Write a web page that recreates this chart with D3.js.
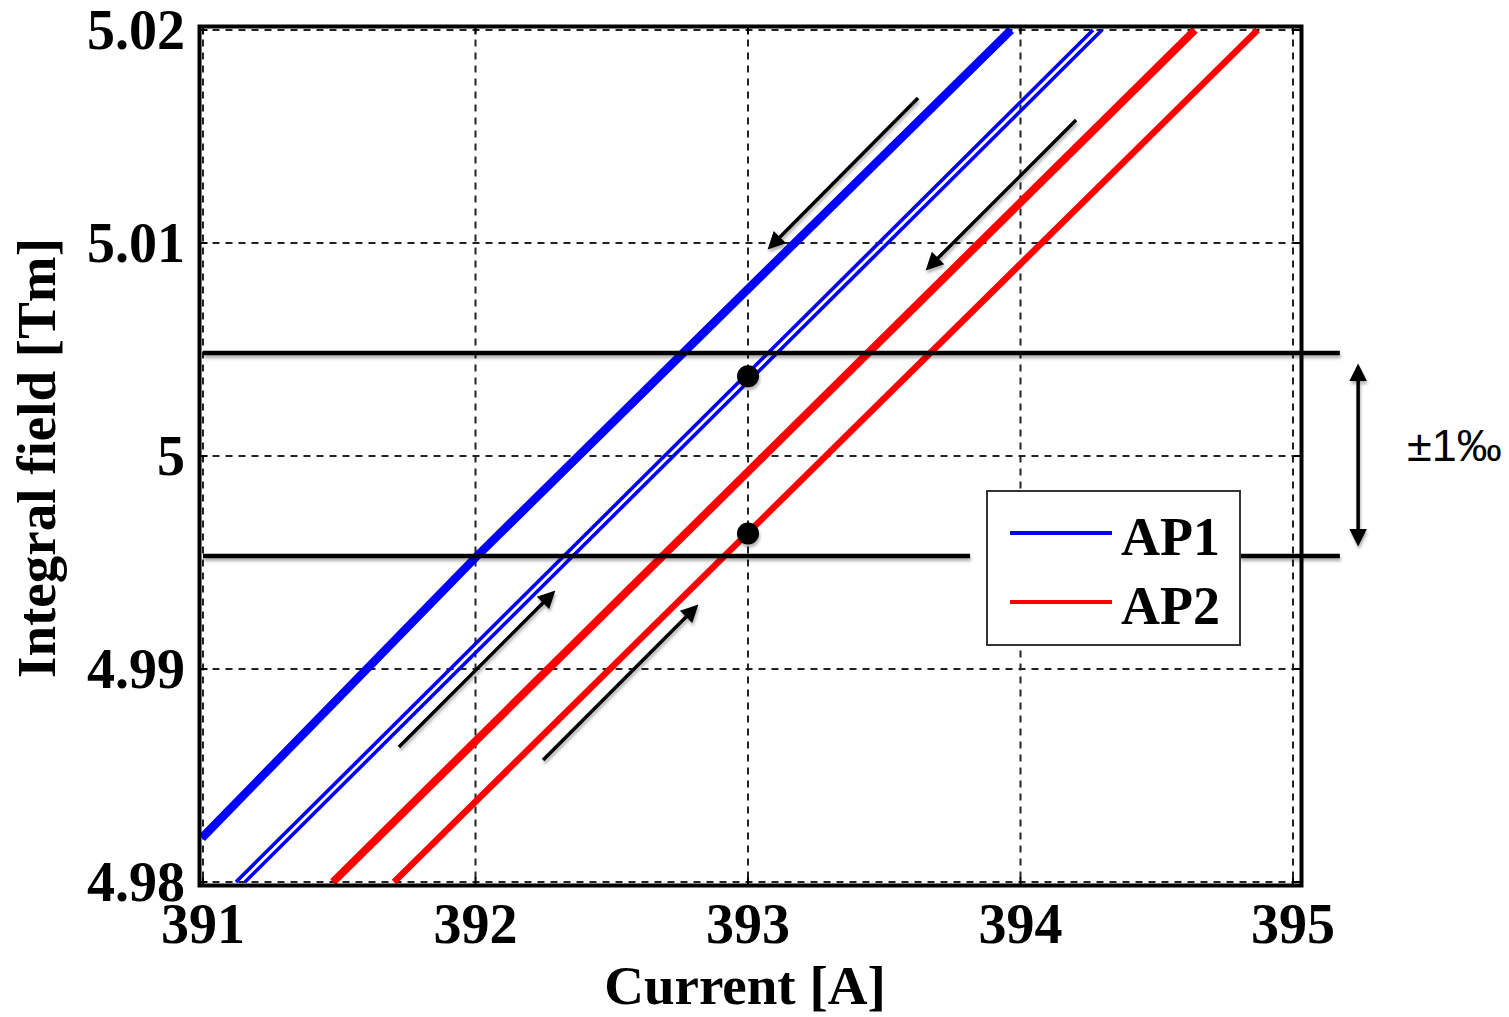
<!DOCTYPE html>
<html>
<head>
<meta charset="utf-8">
<script src="https://cdn.jsdelivr.net/npm/d3@7"></script>
<style>
  html, body { margin: 0; padding: 0; background: #fff; }
  svg { display: block; }
</style>
</head>
<body>
<svg id="chart" width="1509" height="1017"></svg>
<script>
// ---------- data ----------
const xTicks = [391, 392, 393, 394, 395];
const yTicks = [4.98, 4.99, 5.00, 5.01, 5.02];
const yTickLabels = ["4.98", "4.99", "5", "5.01", "5.02"];
const xLabel = "Current [A]";
const yLabel = "Integral field [Tm]";

// AP1 (blue): descending branch (thick) and ascending branch (double strand)
const ap1Down = [[390.996, 4.98207], [392.006, 4.99531], [393.965, 5.02]];
const ap1UpA  = [[391.121, 4.98], [394.266, 5.02]];
const ap1UpB  = [[391.154, 4.98], [394.299, 5.02]];
// AP2 (red): descending branch and ascending branch
const ap2Down = [[391.477, 4.98], [394.640, 5.02]];
const ap2Up   = [[391.701, 4.98], [394.870, 5.02]];

// tolerance band (±1 permille)
const bandUpper = [[391.0, 5.00484], [395.172, 5.00484]];
const bandLowerLeft  = [[391.0, 4.99531], [393.815, 4.99531]];
const bandLowerRight = [[394.806, 4.99531], [395.172, 4.99531]];
const setPoints = [[393.0, 5.00374], [393.0, 4.99636]];

// direction arrows [x0, y0, x1(tip), y1(tip)]
const arrows = [
  [393.624, 5.01681, 393.081, 5.00981],
  [394.204, 5.01577, 393.661, 5.00883],
  [391.719, 4.98634, 392.284, 4.99357],
  [392.248, 4.98573, 392.809, 4.99291]
];
const bandArrow = [395.239, 5.00418, 395.239, 4.99592];
const bandText = "±1‰";

const legendItems = [
  { name: "AP1", color: "#0000ff" },
  { name: "AP2", color: "#ff0000" }
];

// ---------- layout ----------
const svg = d3.select("#chart");
const x = d3.scaleLinear().domain([391, 395]).range([203, 1293]);
const y = d3.scaleLinear().domain([4.98, 5.02]).range([882, 30]);
const frame = { x0: 199.5, x1: 1301.5, y0: 26.5, y1: 885.5 };
const serif = "'Liberation Serif', 'Times New Roman', Times, serif";

const defs = svg.append("defs");
defs.append("clipPath").attr("id", "plotclip")
  .append("rect").attr("x", frame.x0).attr("y", frame.y0)
  .attr("width", frame.x1 - frame.x0).attr("height", frame.y1 - frame.y0);
const shadow = defs.append("filter").attr("id", "shadow")
  .attr("x", "-20%").attr("y", "-20%").attr("width", "140%").attr("height", "160%");
shadow.append("feDropShadow").attr("dx", 1).attr("dy", 3)
  .attr("stdDeviation", 1.8).attr("flood-color", "#000").attr("flood-opacity", 0.3);

const mk = defs.append("marker").attr("id", "ah")
  .attr("viewBox", "0 0 10 10").attr("refX", 8).attr("refY", 5)
  .attr("markerWidth", 6).attr("markerHeight", 5)
  .attr("markerUnits", "strokeWidth").attr("orient", "auto-start-reverse");
mk.append("path").attr("d", "M0,0 L10,5 L0,10 Z").attr("fill", "#000");

// ---------- grid ----------
const grid = svg.append("g");
grid.selectAll("line.gx").data(xTicks).join("line")
  .attr("x1", d => x(d)).attr("x2", d => x(d))
  .attr("y1", frame.y0).attr("y2", frame.y1)
  .attr("stroke", "#222").attr("stroke-width", 2).attr("stroke-dasharray", "7,6");
grid.selectAll("line.gy").data(yTicks).join("line")
  .attr("y1", d => y(d)).attr("y2", d => y(d))
  .attr("x1", frame.x0).attr("x2", frame.x1)
  .attr("stroke", "#222").attr("stroke-width", 2).attr("stroke-dasharray", "7,6");

// ---------- data lines ----------
const line = d3.line().x(d => x(d[0])).y(d => y(d[1]));
const plot = svg.append("g").attr("clip-path", "url(#plotclip)");
const series = [
  { d: ap1Down, c: "#0000ff", w: 8.5 },
  { d: ap1UpA,  c: "#0000ff", w: 3.6 },
  { d: ap1UpB,  c: "#0000ff", w: 3.6 },
  { d: ap2Down, c: "#ff0000", w: 8 },
  { d: ap2Up,   c: "#ff0000", w: 6.5 }
];
plot.selectAll("path.s").data(series).join("path")
  .attr("d", d => line(d.d)).attr("fill", "none")
  .attr("stroke", d => d.c).attr("stroke-width", d => d.w);

// ---------- frame & ticks ----------
svg.append("rect").attr("x", frame.x0).attr("y", frame.y0)
  .attr("width", frame.x1 - frame.x0).attr("height", frame.y1 - frame.y0)
  .attr("fill", "none").attr("stroke", "#000").attr("stroke-width", 4);
const tk = svg.append("g").attr("stroke", "#000").attr("stroke-width", 2);
xTicks.forEach(t => {
  tk.append("line").attr("x1", x(t)).attr("x2", x(t)).attr("y1", frame.y1).attr("y2", frame.y1 - 8);
  tk.append("line").attr("x1", x(t)).attr("x2", x(t)).attr("y1", frame.y0).attr("y2", frame.y0 + 8);
});
yTicks.forEach(t => {
  tk.append("line").attr("y1", y(t)).attr("y2", y(t)).attr("x1", frame.x0).attr("x2", frame.x0 + 8);
  tk.append("line").attr("y1", y(t)).attr("y2", y(t)).attr("x1", frame.x1).attr("x2", frame.x1 - 8);
});

// ---------- tick labels ----------
svg.append("g").selectAll("text").data(xTicks).join("text")
  .attr("x", d => x(d)).attr("y", 943).attr("text-anchor", "middle")
  .attr("font-family", serif).attr("font-weight", "bold").attr("font-size", 56)
  .text(d => d3.format("d")(d));
svg.append("g").selectAll("text").data(yTicks).join("text")
  .attr("x", 185).attr("y", d => y(d)).attr("dy", "0.34em").attr("text-anchor", "end")
  .attr("font-family", serif).attr("font-weight", "bold").attr("font-size", 56)
  .text((d, i) => yTickLabels[i]);

// axis labels
svg.append("text").attr("x", 745).attr("y", 1004).attr("text-anchor", "middle")
  .attr("font-family", serif).attr("font-weight", "bold").attr("font-size", 55)
  .text(xLabel);
svg.append("text").attr("transform", "translate(55,458) rotate(-90)")
  .attr("text-anchor", "middle")
  .attr("font-family", serif).attr("font-weight", "bold").attr("font-size", 55)
  .text(yLabel);

// ---------- tolerance band ----------
const ann = svg.append("g").attr("filter", "url(#shadow)");
[bandUpper, bandLowerLeft, bandLowerRight].forEach(b => {
  ann.append("path").attr("d", line(b)).attr("stroke", "#000")
    .attr("stroke-width", 4.5).attr("fill", "none");
});
ann.selectAll("circle").data(setPoints).join("circle")
  .attr("cx", d => x(d[0])).attr("cy", d => y(d[1])).attr("r", 11).attr("fill", "#000");

// ---------- arrows ----------
ann.selectAll("line.arr").data(arrows).join("line")
  .attr("x1", d => x(d[0])).attr("y1", d => y(d[1]))
  .attr("x2", d => x(d[2])).attr("y2", d => y(d[3]))
  .attr("stroke", "#000").attr("stroke-width", 3.5)
  .attr("marker-end", "url(#ah)");
ann.append("line")
  .attr("x1", x(bandArrow[0])).attr("y1", y(bandArrow[1]))
  .attr("x2", x(bandArrow[2])).attr("y2", y(bandArrow[3]))
  .attr("stroke", "#000").attr("stroke-width", 3.5)
  .attr("marker-start", "url(#ah)").attr("marker-end", "url(#ah)");
svg.append("text").attr("x", 1407).attr("y", 461)
  .attr("font-family", "'Liberation Sans', Arial, Helvetica, sans-serif")
  .attr("font-size", 45).text(bandText);

// ---------- legend ----------
const lg = svg.append("g").attr("transform", "translate(987,491)");
lg.append("rect").attr("width", 253).attr("height", 154)
  .attr("fill", "#fff").attr("stroke", "#333").attr("stroke-width", 2);
const li = lg.selectAll("g.item").data(legendItems).join("g")
  .attr("transform", (d, i) => `translate(0,${42 + i * 69})`);
li.append("line").attr("x1", 23).attr("x2", 125).attr("y1", 0).attr("y2", 0)
  .attr("stroke", d => d.color).attr("stroke-width", 4);
li.append("text").attr("x", 134).attr("y", 22)
  .attr("font-family", serif).attr("font-weight", "bold").attr("font-size", 54)
  .text(d => d.name);
</script>
</body>
</html>
